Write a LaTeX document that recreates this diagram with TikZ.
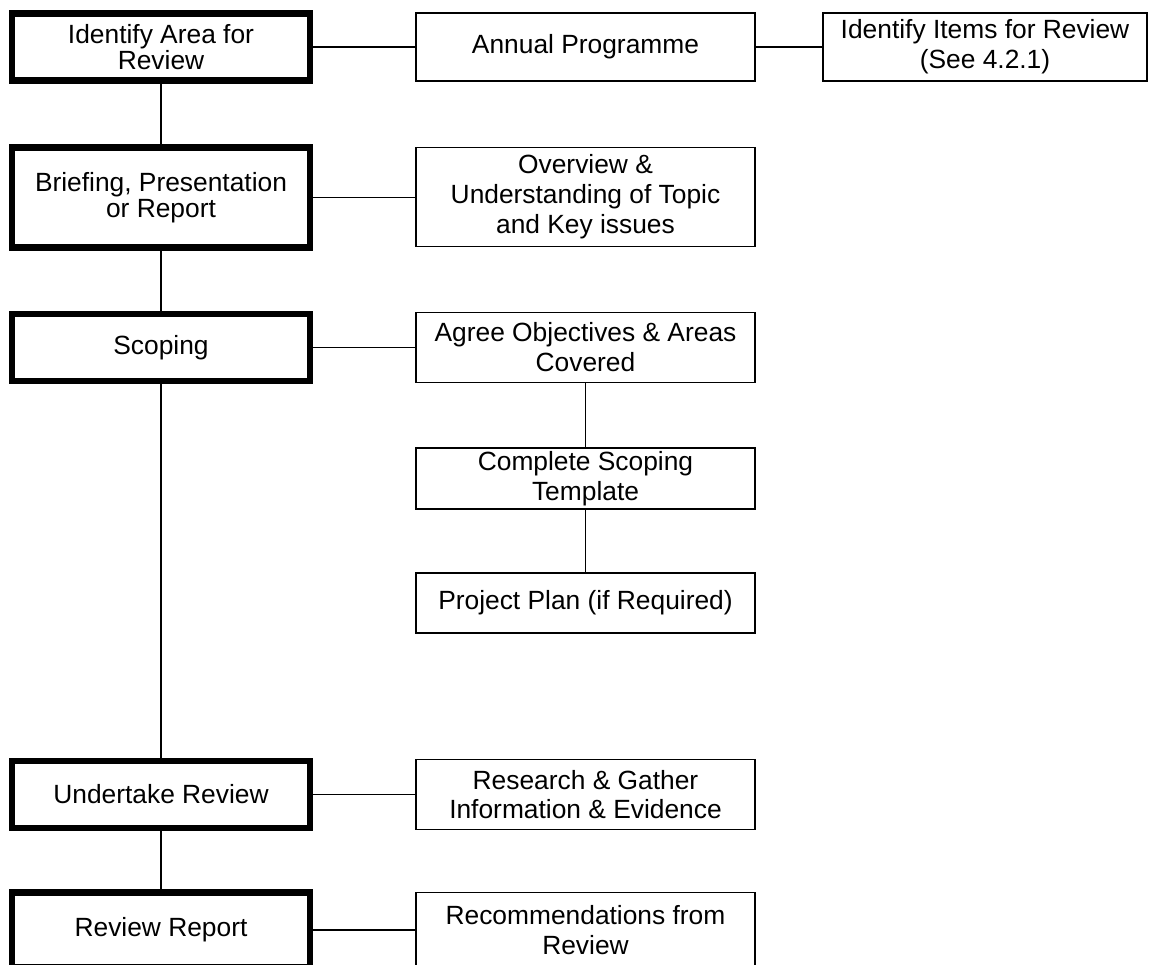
\documentclass[tikz,border=0pt]{standalone}
\usepackage{fontspec}
\setmainfont{Liberation Sans}

\begin{document}
\begin{tikzpicture}[
    x=0.02cm, y=-0.02cm,
    % Define styles for the two kinds of boxes
    stagebox/.style={rectangle, draw=black, line width=3.7pt, fill=white, text centered, align=center, font=\fontsize{15}{15}\selectfont, minimum width=5.96cm, minimum height=1.34cm, inner sep=2pt},
    taskbox/.style={rectangle, draw=black, line width=1.1pt, fill=white, text centered, align=center, font=\fontsize{15}{17}\selectfont, minimum width=6.78cm, minimum height=1.40cm, inner sep=2pt},
    link/.style={draw=black, line width=1.1pt},
]
\useasboundingbox (0,0) rectangle (1149,964);

% -------------------------
% Main stages (left column)
% -------------------------
\node (identify) [stagebox] at (161,47) {Identify Area for\\Review};
\node (briefing) [stagebox, minimum height=2cm] at (161,197.5) {Briefing, Presentation\\or Report};
\node (scoping) [stagebox] at (161,347.5) {Scoping};
\node (undertake) [stagebox] at (161,794.5) {Undertake Review};
\node (report) [stagebox, minimum height=1.5cm] at (161,930) {Review Report};

% -------------------------
% Tasks (middle column)
% -------------------------
\node (annual) [taskbox, minimum height=1.36cm] at (585.5,47) {Annual Programme};
\node (overview) [taskbox, minimum height=1.98cm] at (585.5,197) {Overview \&\\Understanding of Topic\\and Key issues};
\node (agree) [taskbox] at (585.5,347.5) {Agree Objectives \& Areas\\Covered};
\node (template) [taskbox, minimum height=1.22cm] at (585.5,478.5) {Complete Scoping\\Template};
\node (plan) [taskbox, minimum height=1.2cm] at (585.5,603) {Project Plan (if Required)};
\node (research) [taskbox] at (585.5,794.5) {Research \& Gather\\Information \& Evidence};
\node (recommend) [taskbox, minimum height=1.5cm] at (585.5,930) {Recommendations from\\Review};

% Items box (right)
\node (items) [taskbox, minimum width=6.48cm, minimum height=1.36cm] at (985,47) {Identify Items for Review\\(See 4.2.1)};

% -------------------------
% Connections
% -------------------------

% Main flow
\draw[link] (identify) -- (briefing);
\draw[link] (briefing) -- (scoping);
\draw[link] (scoping) -- (undertake);
\draw[link] (undertake) -- (report);

% Stages to tasks
\draw[link] (identify) -- (annual);
\draw[link] (annual) -- (items);
\draw[link] (briefing.east) -- (briefing.east -| overview.west);
\draw[link] (scoping) -- (agree);
\draw[link] (undertake) -- (research);
\draw[link] (report) -- (recommend);

% Scoping tasks
\draw[link] (agree) -- (template);
\draw[link] (template) -- (plan);

\end{tikzpicture}
\end{document}
